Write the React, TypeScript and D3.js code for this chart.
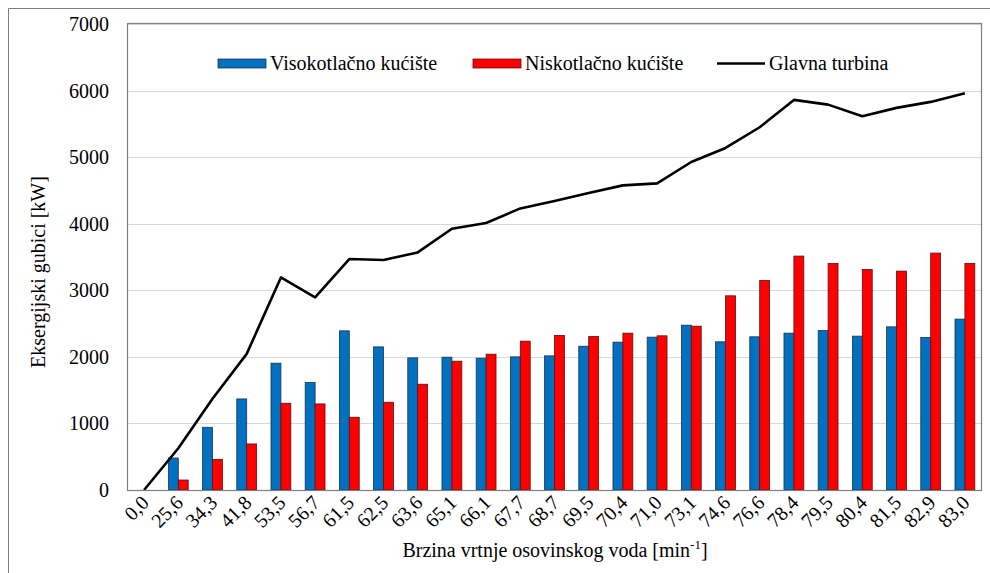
import { useEffect, useRef } from 'react'
import * as d3 from 'd3'

// brzina vrtnje [min-1]
const categories = ['0,0', '25,6', '34,3', '41,8', '53,5', '56,7', '61,5', '62,5', '63,6', '65,1', '66,1', '67,7', '68,7',
  '69,5', '70,4', '71,0', '73,1', '74,6', '76,6', '78,4', '79,5', '80,4', '81,5', '82,9', '83,0']
// gubici [kW]
const visokotlacno = [0, 481, 942, 1368, 1905, 1614, 2391, 2150, 1985, 1995, 1980, 2000, 2015,
  2160, 2221, 2296, 2476, 2226, 2301, 2356, 2396, 2311, 2451, 2291, 2567]
const niskotlacno = [0, 150, 461, 692, 1303, 1293, 1093, 1318, 1589, 1935, 2040, 2236, 2321,
  2306, 2356, 2316, 2461, 2917, 3148, 3514, 3404, 3313, 3288, 3559, 3404]
const glavna = [0, 627, 1370, 2045, 3193, 2892, 3469, 3454, 3569, 3925, 4010, 4230, 4341,
  4461, 4576, 4606, 4927, 5138, 5449, 5860, 5789, 5614, 5740, 5830, 5959]
const yTicks = [0, 1000, 2000, 3000, 4000, 5000, 6000, 7000]

const W = 990
const H = 573
const M = { top: 24, right: 8, bottom: 83, left: 127 }
const FONT = "'Liberation Serif', Tinos, 'Times New Roman', 'DejaVu Serif', serif"
const BLUE = '#0070C0'
const RED = '#FF0000'

export default function App() {
  const svgRef = useRef<SVGSVGElement>(null)

  useEffect(() => {
    const svg = d3.select(svgRef.current)
    svg.selectAll('*').remove()

    const x = d3.scaleBand().domain(categories).range([M.left, W - M.right])
    const y = d3.scaleLinear().domain([0, 7000]).range([H - M.bottom, M.top])
    const bw = x.bandwidth() * 0.29

    // okvir grafikona
    svg.append('path').attr('d', `M8.5,${H + 5}V8.5H${W + 5}`)
      .attr('fill', 'none').attr('stroke', '#7f7f7f').attr('stroke-width', 1)

    // mreža
    svg.append('g').selectAll('line').data(yTicks.slice(1)).join('line')
      .attr('x1', M.left).attr('x2', W - M.right)
      .attr('y1', (d) => Math.round(y(d)) + 0.5).attr('y2', (d) => Math.round(y(d)) + 0.5)
      .attr('stroke', '#d9d9d9').attr('stroke-width', 1)

    // stupci
    const bars = svg.append('g')
    categories.forEach((c, i) => {
      const cx = (x(c) ?? 0) + x.bandwidth() / 2
      if (visokotlacno[i] > 0)
        bars.append('rect').attr('x', cx - bw).attr('y', y(visokotlacno[i]))
          .attr('width', bw).attr('height', y(0) - y(visokotlacno[i]))
          .attr('fill', BLUE).attr('stroke', '#1f3347').attr('stroke-width', 0.8)
      if (niskotlacno[i] > 0)
        bars.append('rect').attr('x', cx).attr('y', y(niskotlacno[i]))
          .attr('width', bw).attr('height', y(0) - y(niskotlacno[i]))
          .attr('fill', RED).attr('stroke', '#5a1010').attr('stroke-width', 0.8)
    })

    // linija
    const line = d3.line<number>()
      .x((_, i) => (x(categories[i]) ?? 0) + x.bandwidth() / 2)
      .y((d) => y(d))
    svg.append('path').datum(glavna).attr('d', line)
      .attr('fill', 'none').attr('stroke', '#000').attr('stroke-width', 2.6)
      .attr('stroke-linejoin', 'round')

    // okvir područja
    svg.append('rect').attr('x', M.left + 0.5).attr('y', M.top - 0.5)
      .attr('width', W - M.right - M.left - 1).attr('height', H - M.bottom - M.top + 1)
      .attr('fill', 'none').attr('stroke', '#7f7f7f').attr('stroke-width', 1.2)

    const txt = svg.append('g').style('font-family', FONT).style('font-size', '20px').attr('fill', '#000')

    // Y oznake
    txt.append('g').selectAll('text').data(yTicks).join('text')
      .attr('x', 109).attr('y', (d) => y(d) + 7)
      .attr('text-anchor', 'end')
      .text((d) => d)

    // X oznake
    txt.append('g').selectAll('text').data(categories).join('text')
      .attr('transform', (d) => `translate(${(x(d) ?? 0) + x.bandwidth() / 2 + 6},${H - M.bottom + 14}) rotate(-45)`)
      .attr('text-anchor', 'end')
      .text((d) => d)

    // naslovi osi
    const xt = txt.append('text').attr('x', 555).attr('y', 557).attr('text-anchor', 'middle')
    xt.append('tspan').text('Brzina vrtnje osovinskog voda [min')
    xt.append('tspan').attr('dy', -8).style('font-size', '13px').text('-1')
    xt.append('tspan').attr('dy', 8).text(']')

    txt.append('text').attr('transform', 'translate(45,272) rotate(-90)')
      .attr('text-anchor', 'middle')
      .text('Eksergijski gubici [kW]')

    // legenda
    const leg = [
      { label: 'Visokotlačno kućište', x: 218, type: 'bar', color: BLUE, stroke: '#1f3347' },
      { label: 'Niskotlačno kućište', x: 473, type: 'bar', color: RED, stroke: '#5a1010' },
      { label: 'Glavna turbina', x: 717, type: 'line', color: '#000', stroke: '#000' },
    ]
    leg.forEach((l) => {
      if (l.type === 'bar')
        svg.append('rect').attr('x', l.x).attr('y', 59).attr('width', 48).attr('height', 9)
          .attr('fill', l.color).attr('stroke', l.stroke).attr('stroke-width', 0.8)
      else
        svg.append('line').attr('x1', l.x).attr('x2', l.x + 48).attr('y1', 63.5).attr('y2', 63.5)
          .attr('stroke', '#000').attr('stroke-width', 2.6)
      txt.append('text').attr('x', l.x + 52).attr('y', 70).text(l.label)
    })
  }, [])

  return (
    <svg ref={svgRef} width={W} height={H}
      style={{ position: 'absolute', left: 0, top: 0, background: '#fff' }} />
  )
}
